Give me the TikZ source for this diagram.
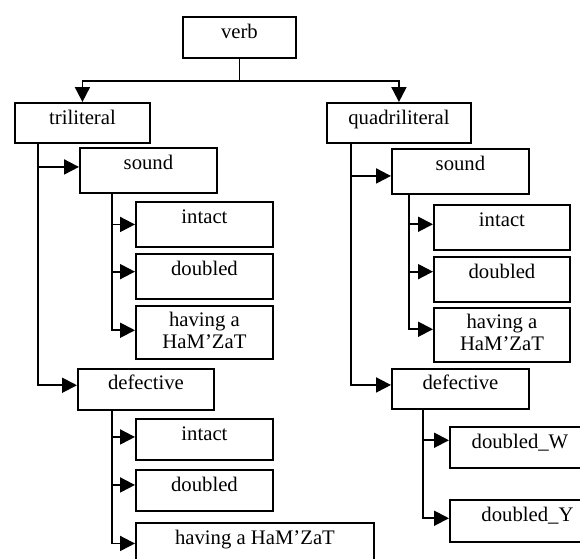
\documentclass[tikz,border=0pt]{standalone}
\usepackage{fontspec}
\setmainfont{Liberation Serif}
\usetikzlibrary{arrows.meta}
\begin{document}
\begin{tikzpicture}[x=1pt,y=-1pt,
  box/.style={draw, line width=1.9pt, inner sep=0pt, anchor=north west},
  lbl/.style={anchor=base, inner sep=0pt, font=\fontsize{20.7pt}{22.3pt}\selectfont},
  arr/.style={line width=1.9pt, -{Triangle[length=15pt,width=15pt]}},
  ln/.style={line width=1.9pt}]
\clip (0,0) rectangle (580,558);
\fill[white] (0,0) rectangle (580,558);
% boxes
\node[box, minimum width=113pt, minimum height=41pt] (verb) at (182,16) {};
\node[box, minimum width=135pt, minimum height=40pt] (tri) at (14,102) {};
\node[box, minimum width=144pt, minimum height=40pt] (quad) at (326,102) {};
\node[box, minimum width=137pt, minimum height=45pt] (sndL) at (79,147) {};
\node[box, minimum width=137pt, minimum height=45pt] (sndR) at (391,148) {};
\node[box, minimum width=137pt, minimum height=45pt] (intL) at (135,201) {};
\node[box, minimum width=137pt, minimum height=45pt] (dblL) at (135,253) {};
\node[box, minimum width=137pt, minimum height=53pt] (hamL) at (135,305) {};
\node[box, minimum width=136pt, minimum height=41pt] (defL) at (77,368) {};
\node[box, minimum width=137pt, minimum height=41pt] (intT) at (135,418) {};
\node[box, minimum width=137pt, minimum height=41pt] (dblT) at (135,469) {};
\node[box, minimum width=238pt, minimum height=41pt] (hamT) at (135,522) {};
\node[box, minimum width=136pt, minimum height=45pt] (intR) at (433,204) {};
\node[box, minimum width=136pt, minimum height=45pt] (dblR) at (433,256) {};
\node[box, minimum width=136pt, minimum height=54pt] (hamR) at (433,307) {};
\node[box, minimum width=137pt, minimum height=40pt] (defR) at (391,368) {};
\node[box, minimum width=140pt, minimum height=41pt] (dW) at (449,426) {};
\node[box, minimum width=155pt, minimum height=42pt] (dY) at (449,499) {};
% labels
\node[lbl] (verb-t) at ([yshift=-22pt]verb.north) {verb};
\node[lbl] (tri-t) at ([yshift=-22pt]tri.north) {triliteral};
\node[lbl] (quad-t) at ([yshift=-22pt]quad.north) {quadriliteral};
\node[lbl] (sndL-t) at ([yshift=-22pt]sndL.north) {sound};
\node[lbl] (sndR-t) at ([yshift=-22pt]sndR.north) {sound};
\node[lbl] (intL-t) at ([yshift=-22pt]intL.north) {intact};
\node[lbl] (dblL-t) at ([yshift=-22pt]dblL.north) {doubled};
\node[lbl] (hamL-t) at ([yshift=-21pt]hamL.north) {\begin{tabular}[t]{@{}c@{}}having a\\HaM’ZaT\end{tabular}};
\node[lbl] (defL-t) at ([yshift=-21pt]defL.north) {defective};
\node[lbl] (intT-t) at ([yshift=-22pt]intT.north) {intact};
\node[lbl] (dblT-t) at ([yshift=-22pt]dblT.north) {doubled};
\node[lbl] (hamT-t) at ([yshift=-22pt]hamT.north) {having a HaM’ZaT};
\node[lbl] (intR-t) at ([yshift=-22pt]intR.north) {intact};
\node[lbl] (dblR-t) at ([yshift=-22pt]dblR.north) {doubled};
\node[lbl] (hamR-t) at ([yshift=-21pt]hamR.north) {\begin{tabular}[t]{@{}c@{}}having a\\HaM’ZaT\end{tabular}};
\node[lbl] (defR-t) at ([yshift=-21pt]defR.north) {defective};
\node[lbl] (dW-t) at ([yshift=-22.5pt]dW.north) {doubled\_W};
\node[lbl] (dY-t) at ([yshift=-22.5pt]dY.north) {doubled\_Y};
% connectors
\draw[ln] (verb.south) -- ++(0,22) coordinate (vj);
\draw[arr] (vj) -| (tri.north);
\draw[arr] (vj) -| (quad.north);
\draw[arr] ([xshift=23.7pt]tri.south west) |- ([yshift=3.5pt]sndL.west);
\draw[arr] ([xshift=23.7pt]tri.south west) |- ([yshift=4.2pt]defL.west);
\draw[arr] ([xshift=32.7pt]sndL.south west) |- (intL.west);
\draw[arr] ([xshift=32.7pt]sndL.south west) |- ([yshift=4.8pt]dblL.west);
\draw[arr] ([xshift=32.7pt]sndL.south west) |- ([yshift=2.2pt]hamL.west);
\draw[arr] ([xshift=24.7pt]quad.south west) |- ([yshift=-4.5pt]sndR.west);
\draw[arr] ([xshift=24.7pt]quad.south west) |- ([yshift=4pt]defR.west);
\draw[arr] ([xshift=18.3pt]sndR.south west) |- ([yshift=3.2pt]intR.west);
\draw[arr] ([xshift=18.3pt]sndR.south west) |- ([yshift=7.8pt]dblR.west);
\draw[arr] ([xshift=18.3pt]sndR.south west) |- ([yshift=5.7pt]hamR.west);
\draw[arr] ([xshift=34.7pt]defL.south west) |- ([yshift=2.5pt]intT.west);
\draw[arr] ([xshift=34.7pt]defL.south west) |- ([yshift=5.5pt]dblT.west);
\draw[arr] ([xshift=34.7pt]defL.south west) |- (hamT.west);
\draw[arr] ([xshift=32.3pt]defR.south west) |- ([yshift=7.2pt]dW.west);
\draw[arr] ([xshift=32.3pt]defR.south west) |- ([yshift=2.7pt]dY.west);
\end{tikzpicture}
\end{document}
